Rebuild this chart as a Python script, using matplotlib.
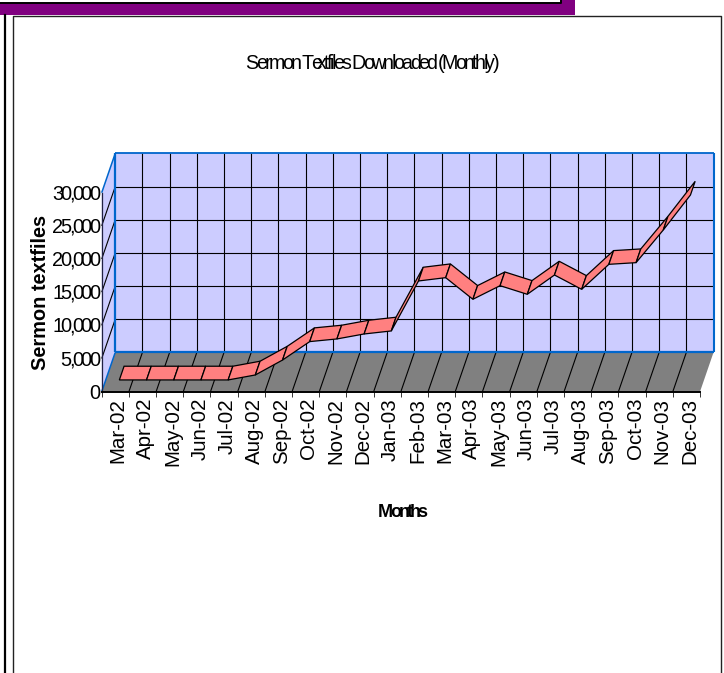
import matplotlib
matplotlib.use("Agg")
import matplotlib.pyplot as plt
from matplotlib.patches import Polygon, Rectangle
from matplotlib.lines import Line2D
from matplotlib.text import Text
from matplotlib.transforms import offset_copy, Bbox

months = ["Mar-02","Apr-02","May-02","Jun-02","Jul-02","Aug-02","Sep-02","Oct-02","Nov-02","Dec-02","Jan-03",
          "Feb-03","Mar-03","Apr-03","May-03","Jun-03","Jul-03","Aug-03","Sep-03","Oct-03","Nov-03","Dec-03"]
downloads = [0,0,0,0,0,750,3000,5780,6180,6930,7385,14920,15420,12160,14210,12910,15820,13660,17430,17680,22600,27880]
y_ticks = [0,5000,10000,15000,20000,25000,30000]
y_tick_labels = ["0","5,000","10,000","15,000","20,000","25,000","30,000"]
title = "Sermon Textfiles Downloaded (Monthly)"
x_title = "Months"
y_title = "Sermon textfiles"

W, H = 724, 673
REG = "Liberation Sans"
PX = 0.72


class TrackedText(Text):
    """One horizontal text whose letters are set closer together."""

    def __init__(self, *args, tracking=0.0, **kw):
        super().__init__(*args, **kw)
        self._tracking = tracking

    def _metrics(self, renderer):
        s, fp = self.get_text(), self.get_fontproperties()
        offs = [renderer.get_text_width_height_descent(s[:i], fp, False)[0] + i*self._tracking if i else 0.0
                for i in range(len(s))]
        w, h, d = renderer.get_text_width_height_descent(s, fp, False)
        return offs, w + (len(s)-1)*self._tracking, h, d

    def _shift(self, w):
        return {"left": 0, "center": w/2, "right": w}[self.get_horizontalalignment()]

    def _get_layout(self, renderer):
        bbox, info, descent = super()._get_layout(renderer)
        _, w, _, _ = self._metrics(renderer)
        return Bbox.from_bounds(-self._shift(w), bbox.y0, w, bbox.height), info, descent

    def draw(self, renderer):
        if not self.get_visible():
            return
        offs, w, h, d = self._metrics(renderer)
        x, y = self.get_transform().transform(self.get_unitless_position())
        x0 = x - self._shift(w)
        base = y - (h - d)/2
        gc = renderer.new_gc()
        gc.set_foreground(self.get_color())
        gc.set_antialiased(True)
        fp = self.get_fontproperties()
        for ch, o in zip(self.get_text(), offs):
            renderer.draw_text(gc, x0 + o, renderer.height - base, ch, fp, 0, ismath=False)
        gc.restore()
        self.stale = False


fig = plt.figure(figsize=(W/100, H/100), dpi=100, facecolor="white")

# page decoration, in pixel coordinates
bg = fig.add_axes([0, 0, 1, 1], zorder=0)
bg.set_xlim(0, W); bg.set_ylim(H, 0); bg.axis("off")
bg.add_patch(Rectangle((0, 3), 574.5, 12, fc="#800080", ec="none"))
bg.add_patch(Rectangle((561, 0), 13.5, 3, fc="#800080", ec="none"))
bg.add_line(Line2D([0, 561, 561], [2.5, 2.5, 0], color="black", lw=1.4))
bg.add_line(Line2D([5, 5], [15, H], color="black", lw=1.6))
bg.add_line(Line2D([13, 13, 721, 721], [H, 15.5, 15.5, H], color="#222222", lw=1.0))

# plot
L, R, B, T = 101.7, 700.0, 391.7, 192.7
ax = fig.add_axes([L/W, 1-B/H, (R-L)/W, (B-T)/H], zorder=1)
n = len(months)
ymax = y_ticks[-1]
ax.set_xlim(0, n); ax.set_ylim(0, ymax)
ax.patch.set_visible(False)
DX = 13.5/((R-L)/n)
DY = 39.2/((B-T)/ymax)


def proj(x, y, d):
    return (x + d*DX, y + d*DY)


def poly(pts, **kw):
    ax.add_patch(Polygon(pts, clip_on=False, **kw))


# walls and floor
poly([proj(0,0,1), proj(n,0,1), proj(n,ymax,1), proj(0,ymax,1)], fc="#CCCCFF", ec="none", zorder=1)
poly([proj(0,0,0), proj(0,0,1), proj(0,ymax,1), proj(0,ymax,0)], fc="#CCCCFF", ec="none", zorder=1)
poly([proj(0,0,0), proj(n,0,0), proj(n,0,1), proj(0,0,1)], fc="#808080", ec="none", zorder=1)


def seg(a, b, color="black", lw=0.8, z=2):
    ax.plot([a[0], b[0]], [a[1], b[1]], color=color, lw=lw, clip_on=False, zorder=z, solid_capstyle="butt")


for v in y_ticks[1:-1]:
    seg(proj(0,v,0), proj(0,v,1))
    seg(proj(0,v,1), proj(n,v,1))
for i in range(1, n):
    seg(proj(i,0,0), proj(i,0,1))
    seg(proj(i,0,1), proj(i,ymax,1))

BLUE = "#0066CC"
seg(proj(0,ymax,0), proj(0,ymax,1), BLUE, 1.1, 3)
seg(proj(0,0,0), proj(0,0,1), BLUE, 1.1, 3)
seg(proj(n,0,1), proj(n,ymax,1), BLUE, 1.5, 3)
seg(proj(0,0,1), proj(0,ymax,1), BLUE, 1.6, 3)
seg(proj(0,0,1), proj(n,0,1), BLUE, 1.6, 3)
seg(proj(0,ymax,1), proj(n,ymax,1), BLUE, 1.3, 3)

# ribbon
D0, D1 = 0.30, 0.65
for i in range(n-1):
    a, b = downloads[i], downloads[i+1]
    poly([proj(i+.5,a,D0), proj(i+1.5,b,D0), proj(i+1.5,b,D1), proj(i+.5,a,D1)],
         fc="#FF8080", ec="black", lw=0.9, joinstyle="miter", zorder=4+i*0.01)

# axes
for s in ["top", "right"]:
    ax.spines[s].set_visible(False)
ax.spines["bottom"].set_linewidth(1.4); ax.spines["bottom"].set_zorder(5)
ax.spines["left"].set_linewidth(0.9); ax.spines["left"].set_color("#222244"); ax.spines["left"].set_zorder(5)
ax.set_xticks(range(n+1)); ax.set_xticklabels([])
ax.set_xticks([i+.5 for i in range(n)], minor=True)
ax.set_xticklabels(months, minor=True, rotation=90, family=REG, fontsize=20.5*PX, va="top", ha="center")
ax.tick_params(axis="x", which="major", length=3.5, width=0.7, color="#333333")
ax.tick_params(axis="x", which="minor", length=0, pad=4.5)
for lab in ax.get_xticklabels(minor=True):
    lab.set_transform(offset_copy(lab.get_transform(), fig, x=3, units="dots"))
ax.set_yticks(y_ticks)
ax.set_yticklabels([])
ax.tick_params(axis="y", length=0)

ytrans = offset_copy(ax.get_yaxis_transform(), fig, x=-1.5, units="dots")
for v, lab in zip(y_ticks, y_tick_labels):
    fig.add_artist(TrackedText(0, v, lab, tracking=-2.6, transform=ytrans, family=REG, fontsize=20*PX,
                               ha="right", va="center"))

fig.add_artist(TrackedText(372.3/W, 1-61.5/H, title, tracking=-2.65, family=REG, fontsize=19.6*PX,
                           ha="center", va="center", transform=fig.transFigure))
fig.add_artist(TrackedText(403/W, 1-510.5/H, x_title, tracking=-2.9, family=REG, weight="bold", fontsize=18*PX,
                           ha="center", va="center", transform=fig.transFigure))
fig.text(41/W, 1-292/H, y_title, family=REG, weight="bold", fontsize=20*PX, rotation=90, ha="center", va="center")

fig.savefig("out.png", dpi=100, facecolor="white")
